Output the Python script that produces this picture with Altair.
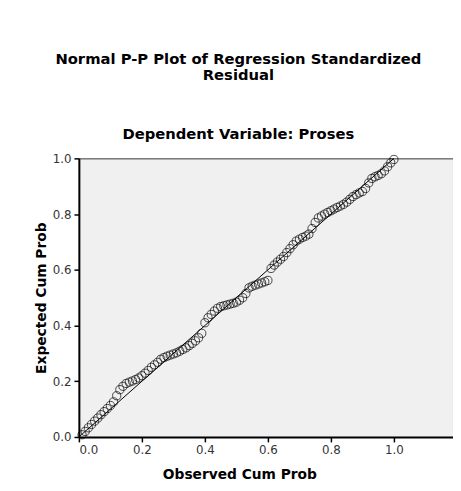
import altair as alt
import pandas as pd

# Observed cumulative probability (x) and expected cumulative probability (y)
obs_cum_prob = [
    0.01, 0.02, 0.03, 0.04, 0.05, 0.06, 0.07, 0.08, 0.09, 0.10,
    0.11, 0.12, 0.13, 0.14, 0.15, 0.16, 0.17, 0.18, 0.19, 0.20,
    0.21, 0.22, 0.23, 0.24, 0.25, 0.26, 0.27, 0.28, 0.29, 0.30,
    0.31, 0.32, 0.33, 0.34, 0.35, 0.36, 0.37, 0.38, 0.39, 0.40,
    0.41, 0.42, 0.43, 0.44, 0.45, 0.46, 0.47, 0.48, 0.49, 0.50,
    0.51, 0.52, 0.53, 0.54, 0.55, 0.56, 0.57, 0.58, 0.59, 0.60,
    0.61, 0.62, 0.63, 0.64, 0.65, 0.66, 0.67, 0.68, 0.69, 0.70,
    0.71, 0.72, 0.73, 0.74, 0.75, 0.76, 0.77, 0.78, 0.79, 0.80,
    0.81, 0.82, 0.83, 0.84, 0.85, 0.86, 0.87, 0.88, 0.89, 0.90,
    0.91, 0.92, 0.93, 0.94, 0.95, 0.96, 0.97, 0.98, 0.99, 1.00,
]
exp_cum_prob = [
    0.008, 0.020, 0.033, 0.045, 0.057, 0.068, 0.080, 0.091, 0.102, 0.113,
    0.126, 0.148, 0.170, 0.182, 0.192, 0.197, 0.201, 0.206, 0.212, 0.220,
    0.229, 0.239, 0.250, 0.259, 0.268, 0.279, 0.285, 0.290, 0.294, 0.298,
    0.302, 0.308, 0.314, 0.320, 0.328, 0.336, 0.345, 0.356, 0.372, 0.410,
    0.428, 0.440, 0.452, 0.462, 0.468, 0.471, 0.474, 0.477, 0.480, 0.484,
    0.491, 0.500, 0.515, 0.535, 0.541, 0.545, 0.549, 0.553, 0.557, 0.562,
    0.605, 0.617, 0.628, 0.638, 0.648, 0.662, 0.676, 0.690, 0.703, 0.710,
    0.716, 0.721, 0.728, 0.748, 0.770, 0.786, 0.793, 0.800, 0.806, 0.812,
    0.818, 0.824, 0.829, 0.835, 0.843, 0.853, 0.863, 0.870, 0.876, 0.881,
    0.892, 0.912, 0.928, 0.934, 0.939, 0.945, 0.955, 0.970, 0.984, 0.996,
]
ref_line_x = [0.0, 1.0]
ref_line_y = [0.0, 1.0]
tick_values = [0.0, 0.2, 0.4, 0.6, 0.8, 1.0]

points = pd.DataFrame({"obs": obs_cum_prob, "exp": exp_cum_prob})
line = pd.DataFrame({"obs": ref_line_x, "exp": ref_line_y})

FONT = "DejaVu Sans, sans-serif"
LFONT = "DejaVu Sans, sans-serif"

xscale = alt.Scale(domain=[0, 1.1875], nice=False, zero=False)
yscale = alt.Scale(domain=[0, 1], nice=False, zero=False)

xaxis = alt.Axis(
    title="Observed Cum Prob", values=tick_values, format=".1f",
    titleX=163, titleY=42, titleBaseline="alphabetic",
)
yaxis = alt.Axis(
    title="Expected Cum Prob", values=tick_values, format=".1f",
    titleX=-34, titleBaseline="alphabetic",
)

pts = alt.Chart(points).mark_point(
    shape="circle", filled=False, color="black", size=70, strokeWidth=1
).encode(
    x=alt.X("obs:Q", scale=xscale, axis=xaxis),
    y=alt.Y("exp:Q", scale=yscale, axis=yaxis),
)

ref = alt.Chart(line).mark_line(color="black", strokeWidth=1).encode(
    x=alt.X("obs:Q", scale=xscale),
    y=alt.Y("exp:Q", scale=yscale),
)

chart = alt.layer(ref, pts).properties(
    width=380,
    height=283,
    autosize=alt.AutoSizeParams(type="none"),
    padding={"left": 72, "top": 149, "right": 0, "bottom": 43},
    background="white",
    title=alt.TitleParams(
        text=["Normal P-P Plot of Regression Standardized", "Residual"],
        subtitle="Dependent Variable: Proses",
        anchor="middle",
        dx=-28,
        font=FONT,
        fontSize=15,
        fontWeight="bold",
        lineHeight=16,
        color="black",
        subtitleFont=FONT,
        subtitleFontSize=15,
        subtitleFontWeight="bold",
        subtitleColor="black",
        subtitlePadding=45,
        offset=11,
    ),
).configure_view(
    fill="#f0f0f0", stroke="#333333", strokeWidth=1
).configure_axis(
    grid=False,
    domainColor="black",
    domainWidth=2,
    tickColor="black",
    tickWidth=1.5,
    tickSize=5,
    labelFont=LFONT,
    labelFontSize=12,
    labelColor="#333333",
    labelPadding=3,
    titleFont=FONT,
    titleFontSize=14,
    titleFontWeight="bold",
    titleColor="black",
)

chart.save("out.html", embed_options={"renderer": "svg", "actions": False})
